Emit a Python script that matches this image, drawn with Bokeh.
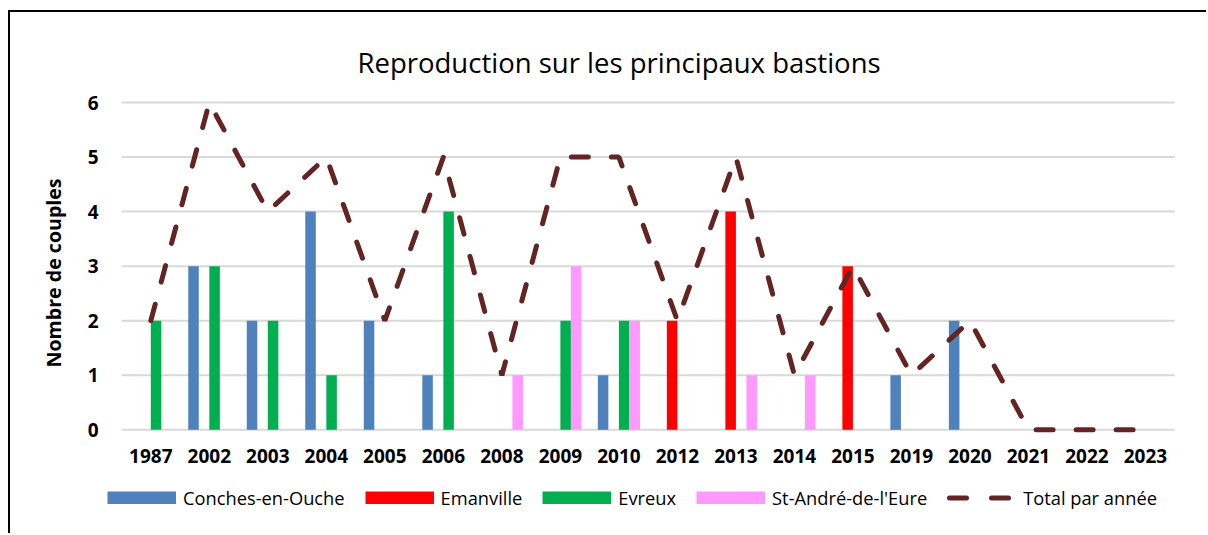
from bokeh.plotting import figure
from bokeh.models import ColumnDataSource, Range1d, Legend, LegendItem, FixedTicker, Title
from bokeh.transform import dodge
from bokeh.core.properties import value
from bokeh.embed import file_html
from bokeh.resources import INLINE

years = ["1987", "2002", "2003", "2004", "2005", "2006", "2008", "2009", "2010",
         "2012", "2013", "2014", "2015", "2019", "2020", "2021", "2022", "2023"]
conches = [0, 3, 2, 4, 2, 1, 0, 0, 1, 0, 0, 0, 0, 1, 2, 0, 0, 0]
emanville = [0, 0, 0, 0, 0, 0, 0, 0, 0, 2, 4, 0, 3, 0, 0, 0, 0, 0]
evreux = [2, 3, 2, 1, 0, 4, 0, 2, 2, 0, 0, 0, 0, 0, 0, 0, 0, 0]
standre = [0, 0, 0, 0, 0, 0, 1, 3, 2, 0, 1, 1, 0, 0, 0, 0, 0, 0]
total = [2, 6, 4, 5, 2, 5, 1, 5, 5, 2, 5, 1, 3, 1, 2, 0, 0, 0]
y_ticks = [0, 1, 2, 3, 4, 5, 6]

series_names = ["Conches-en-Ouche", "Emanville", "Evreux", "St-André-de-l'Eure"]
series_colors = ["#4F81BD", "#FF0000", "#00B050", "#FF99FF"]
line_name = "Total par année"
line_color = "#632523"
title_text = "Reproduction sur les principaux bastions"
y_title = "Nombre de couples"

FONT = "Open Sans"
NAN = float("nan")

xi = list(range(len(years)))
src = ColumnDataSource(dict(xi=xi, year=years, c=conches, e=emanville, v=evreux,
                            s=standre, t=total))

p = figure(x_range=Range1d(-0.8597, 18.077),
           y_range=Range1d(-1.938, 6.092),
           width=1198, height=523,
           output_backend="svg", toolbar_location=None,
           min_border_left=90, min_border_right=0,
           min_border_top=85, min_border_bottom=0,
           title=title_text)
p.margin = (10, 0, 0, 8)
p.styles = {"border-top": "2px solid #000000", "border-left": "2px solid #000000"}

p.title.text_font = FONT
p.title.text_font_style = "normal"
p.title.text_font_size = "27.5px"
p.title.text_color = "#000000"
p.title.align = "left"
p.title.offset = 257
p.title.standoff = 34

p.outline_line_color = None
p.background_fill_color = "#FFFFFF"
p.border_fill_color = "#FFFFFF"
p.xgrid.visible = False
p.ygrid.visible = False
p.xaxis.visible = False

# horizontal gridlines spanning the category band
p.segment(x0=-0.5, x1=len(years) - 0.5, y0=y_ticks, y1=y_ticks,
          line_color="#D9D9D9", line_width=2)

keys = ["c", "e", "v", "s"]
offsets = [-0.27, -0.09, 0.09, 0.27]
for k, off, col in zip(keys, offsets, series_colors):
    p.vbar(x=dodge("xi", off), top=k, width=0.18,
           source=src, fill_color=col, line_color=None)

p.line(x="xi", y="t", source=src, line_color=line_color, line_width=5,
       line_dash="17 23", line_cap="round")

# category labels under the bars
p.text(x="xi", y=-0.489, text="year", source=src,
       text_font=value(FONT), text_font_style="bold", text_font_size="19px",
       text_color="#000000", text_align="center", text_baseline="middle")

p.yaxis.ticker = FixedTicker(ticks=y_ticks)
p.yaxis.axis_line_color = None
p.yaxis.major_tick_line_color = None
p.yaxis.minor_tick_line_color = None
p.yaxis.major_tick_out = 0
p.yaxis.major_tick_in = 0
p.yaxis.major_label_standoff = 2
p.yaxis.major_label_text_font = FONT
p.yaxis.major_label_text_font_style = "bold"
p.yaxis.major_label_text_font_size = "19px"
p.yaxis.major_label_text_color = "#000000"

ytitle = Title(text=y_title, align="left", offset=168, standoff=36,
               text_font=FONT, text_font_style="bold", text_font_size="19.6px",
               text_color="#000000")
p.add_layout(ytitle, "left")

# legend swatches (non-drawing placeholder renderers that carry the legend styles)
leg_renderers = []
for col in series_colors:
    leg_renderers.append(p.line(x=[NAN], y=[NAN], line_color=col, line_width=13,
                                line_cap="butt"))
leg_line = p.line(x=[NAN], y=[NAN], line_color=line_color, line_width=5,
                  line_dash="17 25", line_dash_offset=-2, line_cap="round")

items = [LegendItem(label=n, renderers=[r]) for n, r in zip(series_names, leg_renderers)]
items.append(LegendItem(label=line_name, renderers=[leg_line]))
legend = Legend(items=items, orientation="horizontal", location=(7, 25),
                glyph_width=69, glyph_height=13, label_standoff=7, spacing=20,
                padding=0, margin=0, border_line_color=None, background_fill_alpha=0,
                label_text_font=FONT, label_text_font_size="18.3px",
                label_text_color="#000000")
p.add_layout(legend, "center")

open("out.html", "w").write(file_html(p, INLINE))
